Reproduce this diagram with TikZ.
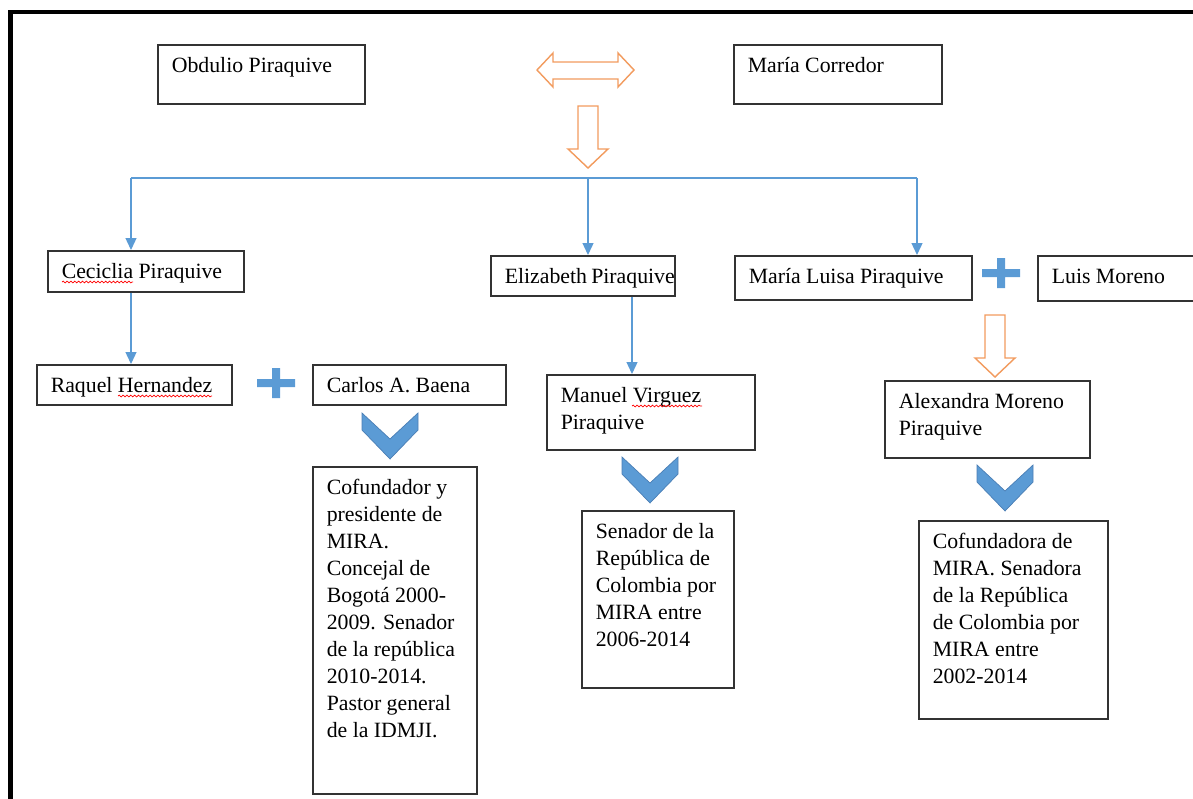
\documentclass[tikz,border=0pt]{standalone}
\usepackage{fontspec}
\setmainfont{Liberation Serif}
\usepackage{xcolor}
\usetikzlibrary{arrows.meta,positioning,decorations.pathmorphing}
\definecolor{treeblue}{HTML}{5B9BD5}
\definecolor{chevedge}{HTML}{4A7EB5}
\definecolor{hollowor}{HTML}{F29B5E}
\newlength\px \setlength\px{0.02cm}
\newcommand{\cardtext}[3]{\parbox[t][#2\px][t]{#1\px}{\raggedright\leftskip=0.28cm\rule{0pt}{0.55cm}#3}}

\begin{document}
\begin{tikzpicture}[x=0.02cm,y=-0.02cm,
    card/.style={draw=black!80,line width=0.9pt,inner sep=0pt,anchor=north west,
                 font=\fontsize{12.4}{15.4}\selectfont},
    tree/.style={draw=treeblue,line width=0.75pt},
    drop/.style={tree,-{Triangle[length=0.24cm,width=0.22cm]}},
    hollow/.style={draw=hollowor,line width=0.8pt,fill=white},
    spelling/.style={draw=red,line width=0.4pt,decorate,
                     decoration={snake,amplitude=0.5pt,segment length=2.2pt}},
    downarrow/.pic={\path[hollow] (-10,0) -- (10,0) -- (10,43) -- (20,43) -- (0,62)
                      -- (-20,43) -- (-10,43) -- cycle;},
    plussign/.pic={\fill[treeblue] (-19,-4) rectangle (19,4) (-4,-15) rectangle (4,15);},
    chevron/.pic={\filldraw[fill=treeblue,draw=chevedge,line width=0.4pt]
                      (-28,0) -- (0,26) -- (28,0) -- (28,17) -- (0,46) -- (-28,17) -- cycle;}]
  \useasboundingbox (0,0) rectangle (1193,798);
  \draw[line width=0.09cm] (10.5,800) -- (10.5,12) -- (1200,12);

  \node[card] (obdulio) at (157,44) {\cardtext{207}{59}{Obdulio Piraquive}};
  \node[card] (maria) at (733,44) {\cardtext{208}{59}{María Corredor}};
  \path[hollow] (537,70) -- (553,53) -- (553,62) -- (618,62) -- (618,53) -- (634,70)
      -- (618,87) -- (618,79) -- (553,79) -- (553,87) -- cycle;
  \pic at (588,106) {downarrow};

  \node[card] (ceciclia) at (47,250) {\cardtext{196}{41}{Ceciclia Piraquive}};
  \node[card] (elizabeth) at (490,255) {\cardtext{184}{40}{Elizabeth~Piraquive}};
  \node[card] (marialuisa) at (734,255) {\cardtext{237}{44}{María Luisa Piraquive}};
  \node[card] (luis) at (1037,255) {\cardtext{180}{45}{Luis Moreno}};
  \pic at (1001,273) {plussign};

  \coordinate (busL) at (131,178);
  \coordinate (busM) at (588,178);
  \coordinate (busR) at (917,178);
  \coordinate (elidrop) at (632,300);
  \draw[tree] (busL) -- (busR);
  \draw[drop] (busL) -- (busL |- ceciclia.north);
  \draw[drop] (busM) -- (busM |- elizabeth.north);
  \draw[drop] (busR) -- (busR |- marialuisa.north);

  \node[card] (raquel) at (36,364) {\cardtext{195}{40}{Raquel Hernandez}};
  \node[card] (carlos) at (312,364) {\cardtext{193}{40}{Carlos A. Baena}};
  \pic at (276,383) {plussign};
  \node[card] (manuel) at (546,374) {\cardtext{208}{75}{Manuel Virguez\\Piraquive}};
  \pic at (995,315) {downarrow};
  \node[card] (alexandra) at (884,380) {\cardtext{205}{77}{Alexandra Moreno\\Piraquive}};

  \draw[drop] (busL |- ceciclia.south) -- (busL |- raquel.north);
  \draw[drop] (elidrop |- elizabeth.south) -- (elidrop |- manuel.north);

  \draw[spelling] (62,282) -- (133,282);
  \draw[spelling] (118,396) -- (212,396);
  \draw[spelling] (632,406) -- (702,406);

  \pic at (390,413) {chevron};
  \pic at (650,457) {chevron};
  \pic at (1005,465) {chevron};

  \node[card] (carlosnote) at (312,466) {\cardtext{164}{327}{Cofundador y\\presidente de\\MIRA.\\Concejal de\\Bogotá 2000-\\2009. Senador\\de la república\\2010-2014.\\Pastor general\\de la IDMJI.}};
  \node[card] (manuelnote) at (581,510) {\cardtext{152}{177}{Senador de la\\República de\\Colombia por\\MIRA entre\\2006-2014}};
  \node[card] (alexnote) at (918,520) {\cardtext{189}{198}{Cofundadora de\\MIRA. Senadora\\de la República\\de Colombia por\\MIRA entre\\2002-2014}};
\end{tikzpicture}
\end{document}
